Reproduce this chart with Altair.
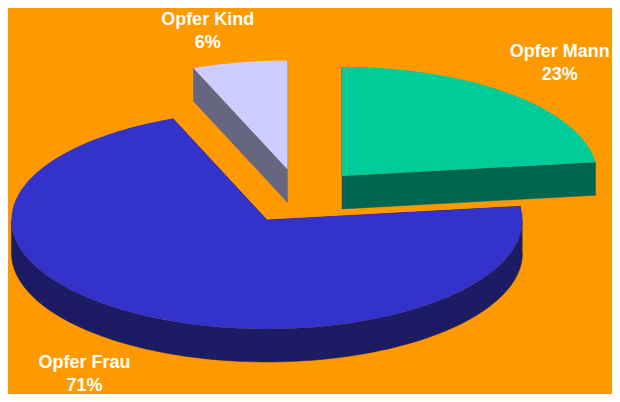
import numpy as np
import pandas as pd
import altair as alt

# ---- data ----
categories = ["Opfer Mann", "Opfer Frau", "Opfer Kind"]
values = [23, 71, 6]
pct_labels = ["23%", "71%", "6%"]
top_colors = ["#00CC99", "#3333CC", "#CCCCFF"]
side_colors = ["#00664F", "#1C1C64", "#666680"]

# ---- layout (pixels / unit factors) ----
W, H = 604, 386
CX, CY = 291.6, 188.4      # pie centre inside the view
RX, RY = 255.5, 109.0      # ellipse radii
DEPTH = 33                 # extrusion height in px
EXPLODE = 0.251            # explode distance as fraction of radius
DRAW_ORDER = ["Opfer Kind", "Opfer Mann", "Opfer Frau"]
LABEL_R = {"Opfer Mann": (1.540, 1.709), "Opfer Frau": (1.654, 1.829), "Opfer Kind": (1.921, 1.600)}

xdom = [(0 - CX) / RX, (W - CX) / RX]
ydom = [(CY - H) / RY, CY / RY]
d = DEPTH / RY

total = float(sum(values))
cum = np.concatenate([[0], np.cumsum(values)]) / total * 360.0


def arc(ox, oy, b0, b1):
    n = max(int(abs(b1 - b0)) + 2, 3)
    th = np.radians(np.linspace(b0, b1, n))
    return ox + np.sin(th), oy + np.cos(th)


geo = {}
labels = []
for i, name in enumerate(categories):
    a0, a1 = cum[i], cum[i + 1]
    mid = np.radians((a0 + a1) / 2)
    ox, oy = EXPLODE * np.sin(mid), EXPLODE * np.cos(mid)
    ax, ay = arc(ox, oy, a0, a1)
    px = np.concatenate([[ox], ax])
    py = np.concatenate([[oy], ay])
    top = pd.DataFrame({"x": px, "y": py, "k": np.arange(len(px)), "poly": 0})

    rows = []
    # radial faces
    for pid, a in enumerate([a0, a1]):
        ex, ey = ox + np.sin(np.radians(a)), oy + np.cos(np.radians(a))
        quad = [(ox, oy), (ex, ey), (ex, ey - d), (ox, oy - d)]
        for k, (qx, qy) in enumerate(quad):
            rows.append((qx, qy, k, pid))
    # front outer wall
    w0, w1 = max(a0, 90.0), min(a1, 270.0)
    if w1 > w0:
        wx, wy = arc(ox, oy, w0, w1)
        xs_ = np.concatenate([wx, wx[::-1]])
        ys_ = np.concatenate([wy, wy[::-1] - d])
        for k in range(len(xs_)):
            rows.append((xs_[k], ys_[k], k, 2))
    side = pd.DataFrame(rows, columns=["x", "y", "k", "poly"])
    geo[name] = (top, side, top_colors[i], side_colors[i])
    rlx, rly = LABEL_R[name]
    labels.append({"label": name + "\n" + pct_labels[i],
                   "x": rlx * np.sin(mid), "y": rly * np.cos(mid)})

xs = alt.Scale(domain=xdom, nice=False, zero=False)
ys = alt.Scale(domain=ydom, nice=False, zero=False)


def poly_layer(df, color, stroke_w):
    return alt.Chart(df).mark_line(
        fill=color, stroke=color, strokeWidth=stroke_w, interpolate="linear"
    ).encode(
        x=alt.X("x:Q", scale=xs, axis=None),
        y=alt.Y("y:Q", scale=ys, axis=None),
        order=alt.Order("k:Q"),
        detail="poly:N",
    )


layers = []
for name in DRAW_ORDER:
    top, side, tc, sc = geo[name]
    layers.append(poly_layer(side, sc, 0.5))
    layers.append(poly_layer(top, tc, 0))

text = alt.Chart(pd.DataFrame(labels)).mark_text(
    font="Liberation Sans", fontWeight="bold", fontSize=18, color="white",
    align="center", baseline="alphabetic", lineBreak="\n", lineHeight=23,
).encode(
    x=alt.X("x:Q", scale=xs, axis=None),
    y=alt.Y("y:Q", scale=ys, axis=None),
    text="label:N",
)
layers.append(text)

chart = alt.layer(*layers).properties(
    width=W, height=H, background="#FF9900", padding=0,
    autosize=alt.AutoSizeParams(type="none"),
).configure_view(stroke=None)

chart.save("out.html", embed_options={"renderer": "svg", "actions": False})
